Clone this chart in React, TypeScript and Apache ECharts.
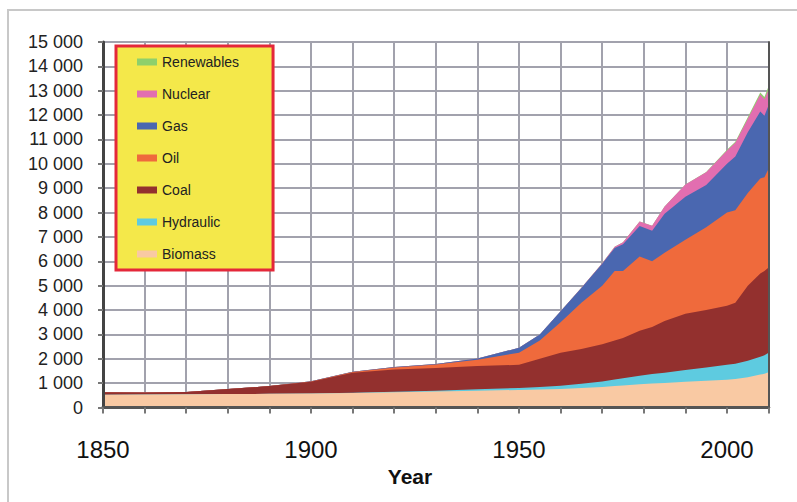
import React, { useEffect, useRef } from "react";
import * as echarts from "echarts";

const years = [1850, 1860, 1870, 1880, 1890, 1900, 1910, 1920, 1930, 1940, 1950, 1955, 1960, 1965, 1970, 1973, 1975, 1979, 1982, 1985, 1990, 1995, 2000, 2002, 2005, 2008, 2009, 2010];

const biomass = [520, 530, 540, 550, 560, 570, 600, 630, 660, 690, 720, 740, 760, 800, 840, 880, 900, 950, 980, 1010, 1060, 1100, 1140, 1170, 1240, 1350, 1380, 1450];
const hydraulic = [0, 0, 0, 0, 0, 5, 10, 20, 30, 60, 80, 100, 130, 170, 230, 270, 300, 350, 390, 420, 480, 540, 610, 630, 680, 730, 760, 800];
const coal = [110, 90, 100, 210, 320, 485, 820, 910, 930, 950, 950, 1160, 1360, 1430, 1530, 1600, 1650, 1850, 1930, 2120, 2310, 2360, 2430, 2500, 3080, 3420, 3460, 3500];
const oil = [0, 0, 0, 0, 0, 10, 30, 80, 140, 260, 500, 750, 1250, 1900, 2400, 2850, 2750, 3050, 2700, 2800, 3030, 3400, 3820, 3800, 3800, 3900, 3850, 4050];
const gas = [0, 0, 0, 0, 0, 5, 10, 20, 30, 50, 200, 250, 450, 600, 900, 950, 1100, 1250, 1250, 1600, 1770, 1730, 2000, 2200, 2500, 2750, 2520, 2600];
const nuclear = [0, 0, 0, 0, 0, 0, 0, 0, 0, 0, 0, 0, 0, 10, 20, 50, 80, 180, 210, 300, 500, 520, 550, 570, 550, 700, 680, 650];
const renewables = [0, 0, 0, 0, 0, 0, 0, 0, 0, 0, 0, 0, 0, 0, 0, 0, 0, 0, 0, 0, 0, 10, 30, 40, 60, 80, 90, 130];

const seriesNames = ["Biomass", "Hydraulic", "Coal", "Oil", "Gas", "Nuclear", "Renewables"];
const seriesValues = [biomass, hydraulic, coal, oil, gas, nuclear, renewables];
const seriesColors = ["#f9c9a3", "#5ecbe0", "#93302e", "#ef6a3c", "#4a67b0", "#e26eb0", "#8ed06b"];
const legendOrder = ["Renewables", "Nuclear", "Gas", "Oil", "Coal", "Hydraulic", "Biomass"];

const xLabelYears = [1850, 1900, 1950, 2000];

function fmtThousands(v: number): string {
  const s = String(Math.round(v));
  if (s.length <= 3) return s;
  return s.slice(0, s.length - 3) + " " + s.slice(s.length - 3);
}

const gridColor = "#a2a2ad";

export default function App() {
  const ref = useRef<HTMLDivElement>(null);
  useEffect(() => {
    if (!ref.current) return;
    const chart = echarts.init(ref.current, undefined, { renderer: "svg" });
    const cumulative: number[][] = [];
    seriesValues.forEach((vals, i) => {
      cumulative.push(vals.map((v, k) => v + (i > 0 ? cumulative[i - 1][k] : 0)));
    });
    const series = seriesNames
      .map((name, i) => ({
        name,
        type: "line",
        xAxisIndex: 0,
        yAxisIndex: 0,
        showSymbol: false,
        symbol: "none",
        lineStyle: { width: 0, color: seriesColors[i] },
        itemStyle: { color: seriesColors[i] },
        areaStyle: { color: seriesColors[i], opacity: 1, origin: "start" },
        data: years.map((y, k) => [y, cumulative[i][k]]),
        z: 2,
      }))
      .reverse();
    chart.setOption({
      animation: false,
      textStyle: { fontFamily: "Liberation Sans" },
      grid: { left: 103, top: 42, right: 28.4, bottom: 94.5, show: false },
      legend: {
        orient: "vertical",
        left: 116,
        top: 46,
        itemWidth: 20,
        itemHeight: 7,
        itemGap: 18,
        padding: [9, 34, 9, 21],
        backgroundColor: "#f4e84a",
        borderColor: "#e4283a",
        borderWidth: 3,
        icon: "rect",
        selectedMode: false,
        textStyle: { fontSize: 14, color: "#222", fontFamily: "Liberation Sans" },
        data: legendOrder,
        z: 10,
      },
      xAxis: [
        {
          type: "value",
          position: "bottom",
          min: 1850,
          max: 2010,
          interval: 10,
          axisLine: { show: true, lineStyle: { color: "#555", width: 3 } },
          axisTick: { show: true, length: 6, lineStyle: { color: "#777", width: 2 } },
          axisLabel: {
            fontSize: 24,
            color: "#111",
            margin: 30,
            formatter: (v: number) => (xLabelYears.includes(v) ? String(v) : ""),
          },
          splitLine: { show: false },
          z: 5,
        },
        {
          type: "value",
          position: "top",
          min: 1850,
          max: 2010,
          interval: 10,
          axisLine: { show: true, lineStyle: { color: "#111", width: 3 } },
          axisTick: { show: false },
          axisLabel: { show: false },
          splitLine: { show: true, lineStyle: { color: gridColor, width: 2 } },
          z: 1,
        },
      ],
      yAxis: [
        {
          type: "value",
          position: "left",
          min: 0,
          max: 15000,
          interval: 1000,
          axisLine: { show: true, lineStyle: { color: "#444", width: 3 } },
          axisTick: { show: true, length: 5, lineStyle: { color: "#777", width: 2 } },
          axisLabel: {
            fontSize: 18,
            color: "#222",
            margin: 20,
            formatter: (v: number) => fmtThousands(v),
          },
          splitLine: { show: false },
          z: 5,
        },
        {
          type: "value",
          position: "right",
          min: 0,
          max: 15000,
          interval: 1000,
          axisLine: { show: true, lineStyle: { color: "#555", width: 2 } },
          axisTick: { show: false },
          axisLabel: { show: false },
          splitLine: { show: false },
          z: 5,
        },
        {
          type: "value",
          position: "left",
          min: 0,
          max: 15000,
          interval: 1000,
          axisLine: { show: false },
          axisTick: { show: false },
          axisLabel: { show: false },
          splitLine: { show: true, lineStyle: { color: gridColor, width: 2 } },
          z: 0,
        },
      ],
      graphic: [
        {
          type: "rect",
          shape: { x: 8, y: 10, width: 820, height: 520 },
          style: { fill: "none", stroke: "#c8c8c8", lineWidth: 2 },
          silent: true,
        },
        {
          type: "text",
          x: 410,
          y: 476,
          style: {
            text: "Year",
            fontSize: 21,
            fontWeight: "bold",
            fontFamily: "Liberation Sans",
            fill: "#111",
            textAlign: "center",
            textVerticalAlign: "middle",
          },
        },
      ],
      series,
    });
    return () => chart.dispose();
  }, []);
  return (
    <div
      ref={ref}
      style={{ position: "fixed", left: 0, top: 0, width: 797, height: 502, background: "#fff" }}
    />
  );
}
